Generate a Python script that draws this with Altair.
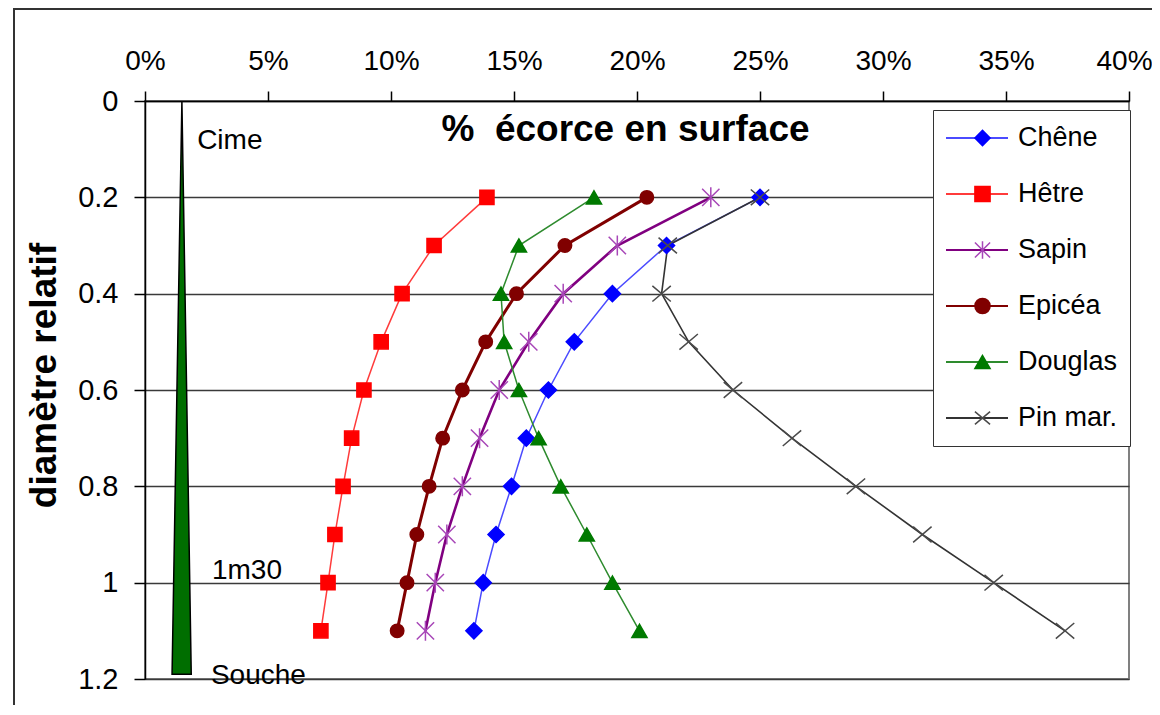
import altair as alt
import pandas as pd

# ---------------- data ----------------
series = ["Chêne", "Hêtre", "Sapin", "Epicéa", "Douglas", "Pin mar."]
diam = [0.2, 0.3, 0.4, 0.5, 0.6, 0.7, 0.8, 0.9, 1.0, 1.1]
chene = [0.250, 0.212, 0.190, 0.1745, 0.164, 0.155, 0.149, 0.1427, 0.1375, 0.1337]
hetre = [0.139, 0.1175, 0.1045, 0.096, 0.089, 0.084, 0.0805, 0.0772, 0.0744, 0.0715]
sapin = [0.230, 0.192, 0.170, 0.156, 0.144, 0.136, 0.129, 0.1227, 0.118, 0.114]
epicea = [0.204, 0.1707, 0.151, 0.1385, 0.129, 0.121, 0.1155, 0.1105, 0.1065, 0.1025]
douglas = [0.1825, 0.152, 0.1447, 0.146, 0.152, 0.160, 0.169, 0.1796, 0.190, 0.201]
pin_mar = [0.250, 0.2125, 0.210, 0.221, 0.239, 0.263, 0.289, 0.316, 0.345, 0.374]
values = [chene, hetre, sapin, epicea, douglas, pin_mar]

line_colors = ["#4B4BFF", "#FF3B3B", "#800080", "#800000", "#2E8B2E", "#333333"]
point_colors = ["#0000FF", "#FF0000", "#A847B8", "#800000", "#007A00", "#4A4A4A"]
line_widths = [1.5, 1.5, 2.6, 3.0, 1.5, 1.6]
point_sizes = [260, 200, 300, 180, 230, 340]
asterisk = "M-1,-1L1,1M-1,1L1,-1M0,-1.15L0,1.15"
xcross = "M-1,-0.85L1,0.85M-1,0.85L1,-0.85"
shapes = ["diamond", "square", asterisk, "circle", "triangle-up", xcross]

x_ticks = [0, 0.05, 0.10, 0.15, 0.20, 0.25, 0.30, 0.35, 0.40]
y_ticks = [0, 0.2, 0.4, 0.6, 0.8, 1.0, 1.2]

# tree silhouette (triangle): apex at top, base near 1.19
tree_y = [0.0, 1.19]
tree_x = [0.0150, 0.0110]
tree_x2 = [0.0150, 0.0188]

# annotations
title_text = ["\u0025\u00a0 écorce en surface"]
title_x = [0.1205]
title_y = [0.083]
ann_text = ["Cime", "1m30", "Souche"]
ann_x = [0.0212, 0.0272, 0.0268]
ann_y = [0.100, 0.993, 1.210]

# ---------------- tables ----------------
# marker series names carry an invisible suffix so that the marker legend
# stays separate from the line legend and can be laid over it
pt_names = [s + "\u200b" for s in series]
rows = []
for i, s in enumerate(series):
    for d, v in zip(diam, values[i]):
        rows.append({"serie": s, "serie_pt": pt_names[i], "pct": v, "diam": d,
                     "w": line_widths[i], "sz": point_sizes[i]})
df = pd.DataFrame(rows)
tree = pd.DataFrame({"pct": tree_x, "pct2": tree_x2, "diam": tree_y})
ann = pd.DataFrame({"txt": ann_text, "pct": ann_x, "diam": ann_y})
ttl = pd.DataFrame({"txt": title_text, "pct": title_x, "diam": title_y})

FONT = "Liberation Sans"

xscale = alt.Scale(domain=[0, 0.4], nice=False, zero=False)
yscale = alt.Scale(domain=[0, 1.2], reverse=True, nice=False, zero=False)
xaxis = alt.Axis(orient="top", values=x_ticks, format=".0%", grid=False,
                 labelFont=FONT, labelFontSize=28, labelColor="black",
                 tickColor="black", tickSize=10, tickWidth=1.5,
                 domainColor="black", domainWidth=1.5, labelPadding=16,
                 labelFlush=False, labelOverlap=False,
                 labelOffset={"condition": {"test": "datum.value >= 0.399", "value": -5},
                              "value": 0})
yaxis = alt.Axis(values=y_ticks, format=".1~f", grid=True,
                 gridColor="#3a3a3a", gridWidth=1.5,
                 labelFont=FONT, labelFontSize=29, labelColor="black",
                 tickColor="black", tickSize=11, tickWidth=1.5,
                 domainColor="black", domainWidth=1.5, labelPadding=16,
                 labelFlush=False, labelOverlap=False,
                 titleFont=FONT, titleFontSize=37, titleFontWeight="bold",
                 titleColor="black", titleX=-82, titleY=274)

X = alt.X("pct:Q", scale=xscale, axis=xaxis, title=None)
Y = alt.Y("diam:Q", scale=yscale, axis=yaxis, title="diamètre relatif")

leg_common = dict(orient="none", title=None, labelFont=FONT, labelFontSize=27,
                  labelColor="black", padding=12, rowPadding=24, clipHeight=32,
                  labelOffset=9, legendY=9)

line_legend = alt.Legend(symbolType="stroke", symbolSize=3844,
                         symbolStrokeWidth=2, fillColor="white",
                         strokeColor="#333333", legendX=788, **leg_common)
point_legend = alt.Legend(labelExpr="''", symbolStrokeWidth=1.5, symbolSize=230,
                          symbolOpacity=1, legendX=812, **leg_common)

frame = alt.Chart(pd.DataFrame({"k": [0]})).mark_rect(
    fill="white", fillOpacity=0, stroke="#333333", strokeWidth=2
).encode(x=alt.value(-131), x2=alt.value(1200), y=alt.value(-92), y2=alt.value(800))

tree_layer = alt.Chart(tree).mark_area(
    orient="horizontal", fill="#006E00", stroke="black", strokeWidth=1.5, opacity=1
).encode(x=X, x2="pct2:Q", y=Y)

lines = alt.Chart(df).mark_line().encode(
    x=X, y=Y,
    color=alt.Color("serie:N", sort=series,
                    scale=alt.Scale(domain=series, range=line_colors),
                    legend=line_legend),
    strokeWidth=alt.StrokeWidth("w:Q", scale=None),
    order=alt.Order("diam:Q"),
)

points = alt.Chart(df).mark_point(filled=True, opacity=1, strokeWidth=1.5).encode(
    x=X, y=Y,
    shape=alt.Shape("serie_pt:N", sort=pt_names,
                    scale=alt.Scale(domain=pt_names, range=shapes),
                    legend=point_legend),
    fill=alt.Fill("serie_pt:N", sort=pt_names,
                  scale=alt.Scale(domain=pt_names, range=point_colors),
                  legend=point_legend),
    stroke=alt.Stroke("serie_pt:N", sort=pt_names,
                      scale=alt.Scale(domain=pt_names, range=point_colors),
                      legend=point_legend),
    size=alt.Size("sz:Q", scale=None),
)

title_layer = alt.Chart(ttl).mark_text(
    align="left", baseline="alphabetic", font=FONT, fontSize=37,
    fontWeight="bold", color="black"
).encode(x=X, y=Y, text="txt:N")

texts = alt.Chart(ann).mark_text(
    align="left", baseline="alphabetic", font=FONT, fontSize=28, color="black"
).encode(x=X, y=Y, text="txt:N")

chart = alt.layer(frame, tree_layer, lines, points, title_layer, texts).properties(
    width=984, height=578,
    autosize=alt.AutoSizeParams(type="none"),
    padding={"left": 137, "top": 93, "right": 23, "bottom": 26},
    background="white",
).configure_view(stroke="#808080", strokeWidth=2)

chart.save("out.html", embed_options={"renderer": "svg", "actions": False})
